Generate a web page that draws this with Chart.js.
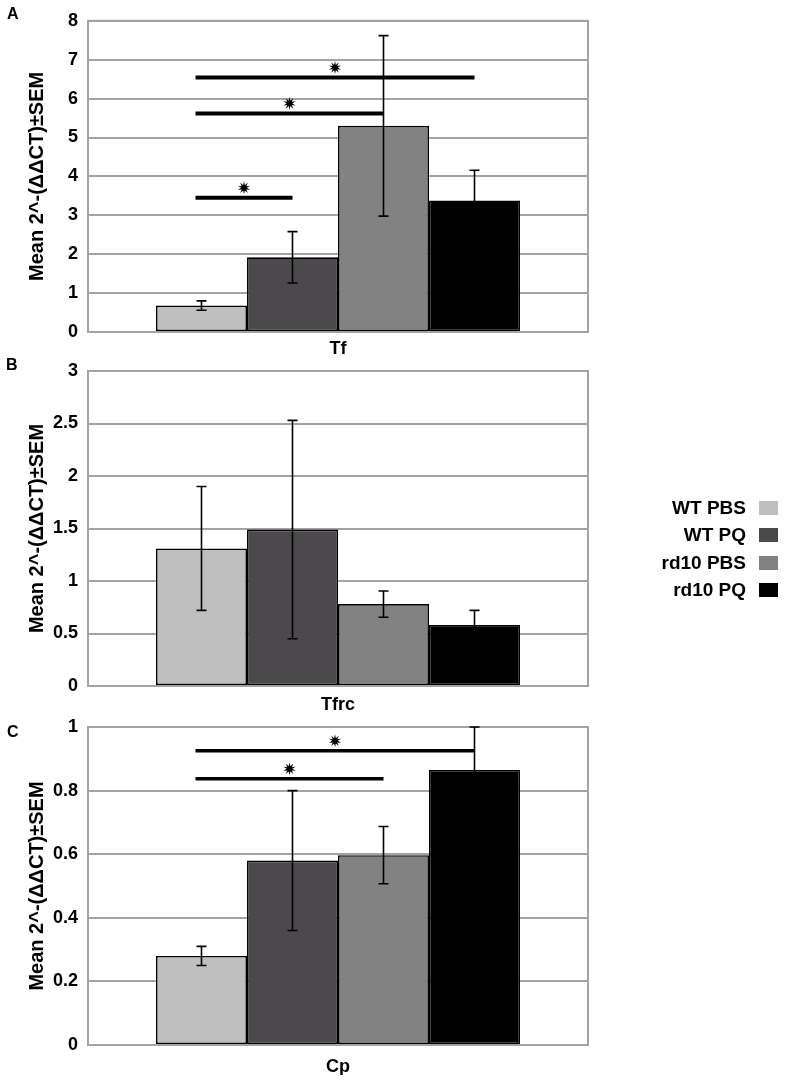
<!DOCTYPE html>
<html>
<head>
<meta charset="utf-8">
<script src="https://cdn.jsdelivr.net/npm/chart.js@4.4.1/dist/chart.umd.min.js"></script>
<style>
  html, body { margin: 0; padding: 0; background: #fff; overflow: hidden; }
  #wrap { position: relative; width: 785px; height: 1088px; overflow: hidden; font-family: "Liberation Sans", Arial, sans-serif; }
  #wrap canvas { position: absolute; left: 0; top: 0; }
  .letter { position: absolute; font-weight: bold; font-size: 16px; color: #000; }
  .leg { position: absolute; font-weight: bold; font-size: 19px; color: #000; text-align: right; width: 160px; left: 586px; line-height: 22px; }
  .sw { position: absolute; left: 759px; width: 19px; height: 14px; }
</style>
</head>
<body>
<div id="wrap">
  <canvas id="cA" width="785" height="1088"></canvas>
  <canvas id="cB" width="785" height="1088"></canvas>
  <canvas id="cC" width="785" height="1088"></canvas>
  <div class="letter" style="left:7px;top:5px;">A</div>
  <div class="letter" style="left:6px;top:356px;">B</div>
  <div class="letter" style="left:7px;top:723px;">C</div>
  <div id="legend"></div>
</div>
<script>
// ---- data ----
const groups = ['WT PBS', 'WT PQ', 'rd10 PBS', 'rd10 PQ'];
const groupColors = ['#c0bfc0', '#4b494b', '#828282', '#000000'];

const tfGene = ['Tf'];
const tfMeans = [0.68, 1.92, 5.30, 3.38];
const tfSem = [0.12, 0.66, 2.32, 0.78];
const tfTicks = [0, 1, 2, 3, 4, 5, 6, 7, 8];
const tfSig = [[0, 1, 3.45], [0, 2, 5.62], [0, 3, 6.54]];

const tfrcGene = ['Tfrc'];
const tfrcMeans = [1.31, 1.49, 0.78, 0.58];
const tfrcSem = [0.59, 1.04, 0.125, 0.14];
const tfrcTicks = [0, 0.5, 1, 1.5, 2, 2.5, 3];
const tfrcSig = [];

const cpGene = ['Cp'];
const cpMeans = [0.28, 0.58, 0.597, 0.865];
const cpSem = [0.03, 0.22, 0.09, 0.135];
const cpTicks = [0, 0.2, 0.4, 0.6, 0.8, 1];
const cpSig = [[0, 2, 0.837], [0, 3, 0.925]];

const yTitle = 'Mean 2^-(ΔΔCT)±SEM';

// ---- plugins ----
const framePlugin = {
  id: 'frame',
  beforeDatasetsDraw(chart) {
    const {ctx, chartArea: a} = chart;
    ctx.save();
    ctx.strokeStyle = '#a3a3a3';
    ctx.lineWidth = 2;
    ctx.strokeRect(a.left, a.top, a.right - a.left, a.bottom - a.top);
    ctx.restore();
  }
};

function drawStar(ctx, cx, cy, rOut, rIn, n) {
  ctx.beginPath();
  for (let i = 0; i < 2 * n; i++) {
    const r = i % 2 === 0 ? rOut : rIn;
    const ang = -Math.PI / 2 + i * Math.PI / n;
    const x = cx + r * Math.cos(ang), y = cy + r * Math.sin(ang);
    if (i === 0) ctx.moveTo(x, y); else ctx.lineTo(x, y);
  }
  ctx.closePath();
  ctx.fill();
}

const annotPlugin = {
  id: 'annot',
  afterDatasetsDraw(chart, args, opts) {
    const {ctx} = chart;
    const yScale = chart.scales.y;
    ctx.save();
    ctx.strokeStyle = '#000';
    ctx.fillStyle = '#000';
    // error bars
    (opts.sem || []).forEach((s, i) => {
      const bar = chart.getDatasetMeta(i).data[0];
      const v = chart.data.datasets[i].data[0];
      const yt = yScale.getPixelForValue(v + s);
      const yb = yScale.getPixelForValue(v - s);
      const x = bar.x;
      ctx.lineWidth = 1.6;
      ctx.beginPath();
      ctx.moveTo(x, yt); ctx.lineTo(x, yb);
      ctx.moveTo(x - 5, yt); ctx.lineTo(x + 5, yt);
      ctx.moveTo(x - 5, yb); ctx.lineTo(x + 5, yb);
      ctx.stroke();
    });
    // significance lines
    (opts.sig || []).forEach(([a, b, yv]) => {
      const xa = chart.getDatasetMeta(a).data[0].x - 6;
      const xb = chart.getDatasetMeta(b).data[0].x;
      const y = yScale.getPixelForValue(yv);
      ctx.lineWidth = opts.sigWidth || 4;
      ctx.beginPath();
      ctx.moveTo(xa, y); ctx.lineTo(xb, y);
      ctx.stroke();
      drawStar(ctx, (xa + xb) / 2, y - 10, 6.5, 2.8, 10);
    });
    ctx.restore();
  }
};

function makeChart(id, gene, means, sem, ticks, sig, padTop, padBottom, xPad, sigWidth) {
  const datasets = groups.map((g, i) => ({
    label: g,
    data: [means[i]],
    backgroundColor: groupColors[i],
    borderColor: '#000',
    borderWidth: 1.6,
    borderSkipped: false,
    categoryPercentage: 0.728,
    barPercentage: 1.0
  }));
  const tickLabelSet = ticks.map(t => String(t));
  return new Chart(document.getElementById(id), {
    type: 'bar',
    data: { labels: gene, datasets },
    plugins: [framePlugin, annotPlugin],
    options: {
      responsive: false,
      animation: false,
      events: [],
      layout: { padding: { left: 0, right: 197, top: padTop, bottom: padBottom } },
      plugins: {
        legend: { display: false },
        tooltip: { enabled: false },
        annot: { sem, sig, sigWidth }
      },
      scales: {
        x: {
          grid: { display: false, drawTicks: false },
          border: { display: false },
          ticks: { color: '#000', padding: xPad, font: { family: 'Liberation Sans', size: 18, weight: 'bold' } },
          afterFit(s) { s.height = 30; }
        },
        y: {
          min: ticks[0],
          max: ticks[ticks.length - 1],
          afterBuildTicks(s) { s.ticks = ticks.map(v => ({ value: v })); },
          grid: { color: '#a3a3a3', lineWidth: 2, drawTicks: false },
          border: { display: false },
          ticks: {
            color: '#000',
            padding: 10,
            font: { family: 'Liberation Sans', size: 18, weight: 'bold' },
            callback: (v) => { const k = ticks.indexOf(v); return k >= 0 ? tickLabelSet[k] : ''; }
          },
          title: {
            display: true,
            text: yTitle,
            color: '#000',
            font: { family: 'Liberation Sans', size: 20, weight: 'bold' },
            padding: { top: 25, bottom: 0 }
          },
          afterFit(s) { s.width = 88; }
        }
      }
    }
  });
}

makeChart('cA', tfGene, tfMeans, tfSem, tfTicks, tfSig, 12, 1088 - 332 - 30, 6, 4);
makeChart('cB', tfrcGene, tfrcMeans, tfrcSem, tfrcTicks, tfrcSig, 371, 1088 - 686 - 30, 8, 4);
makeChart('cC', cpGene, cpMeans, cpSem, cpTicks, cpSig, 727, 1088 - 1045 - 30, 11, 3.5);

// ---- HTML legend ----
const legendRows = [508, 535, 563, 590];
const lg = document.getElementById('legend');
groups.forEach((g, i) => {
  const t = document.createElement('div');
  t.className = 'leg';
  t.style.top = (legendRows[i] - 11) + 'px';
  t.textContent = g;
  lg.appendChild(t);
  const s = document.createElement('div');
  s.className = 'sw';
  s.style.top = (legendRows[i] - 7) + 'px';
  s.style.background = groupColors[i];
  lg.appendChild(s);
});
</script>
</body>
</html>
